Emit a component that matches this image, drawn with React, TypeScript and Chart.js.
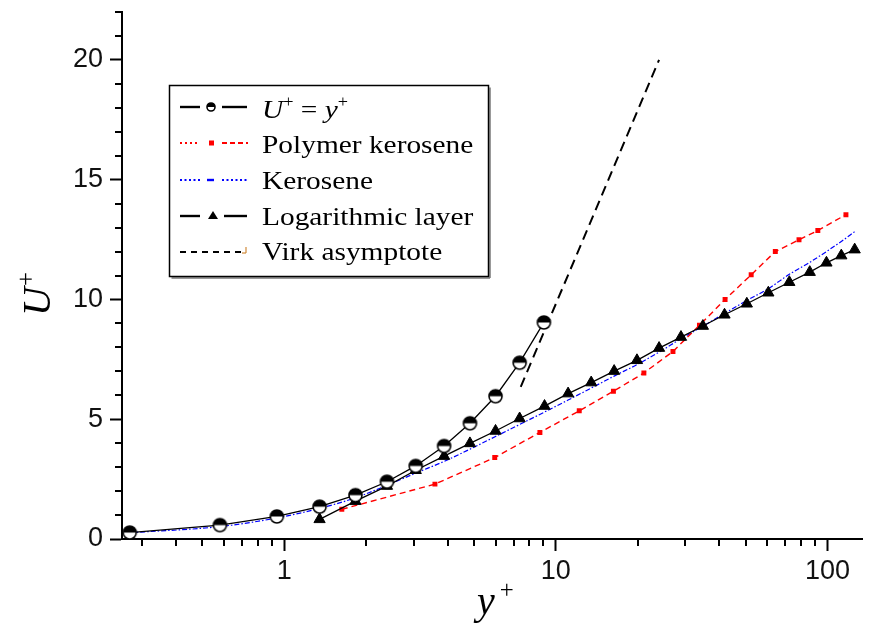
import { useEffect, useRef } from 'react';
import { Chart, registerables } from 'chart.js';

Chart.register(...registerables);

// Viscous sublayer U+ = y+
const wallX = [0.27, 0.58, 0.94, 1.35, 1.83, 2.39, 3.05, 3.88, 4.83, 6.0, 7.36, 9.04];
const wallU = [0.27, 0.58, 0.94, 1.35, 1.83, 2.39, 3.05, 3.88, 4.83, 5.96, 7.36, 9.04];

// Polymer kerosene profile
const polymerX = [1.63, 3.59, 5.96, 8.74, 12.2, 16.3, 21.1, 27.0, 33.8, 42.0, 52.4, 64.3, 78.6, 92.2, 117];
const polymerU = [1.24, 2.29, 3.4, 4.45, 5.35, 6.17, 6.93, 7.83, 8.92, 10.0, 11.03, 12.0, 12.49, 12.88, 13.54];

// Kerosene profile
const keroseneX = [0.27, 0.58, 0.94, 1.35, 1.83, 2.39, 3.05, 3.88, 4.83, 6.0, 7.36, 9.09, 11.1, 13.5, 16.4, 19.9, 24.0, 28.9, 34.8, 41.8, 50.5, 60.6, 72.4, 86.1, 99.2, 112.5, 126];
const keroseneU = [0.26, 0.52, 0.88, 1.28, 1.72, 2.24, 2.75, 3.24, 3.75, 4.28, 4.78, 5.3, 5.8, 6.3, 6.8, 7.28, 7.8, 8.36, 8.88, 9.42, 9.96, 10.45, 11.05, 11.55, 12.0, 12.42, 12.83];

// Logarithmic layer
const logX = [1.35, 1.83, 2.39, 3.05, 3.88, 4.83, 6.0, 7.36, 9.09, 11.1, 13.5, 16.4, 19.9, 24.0, 28.9, 34.8, 41.8, 50.5, 60.6, 72.4, 86.1, 99.2, 112.5, 126];
const logU = [0.82, 1.58, 2.21, 2.87, 3.46, 3.99, 4.51, 5.03, 5.55, 6.07, 6.53, 7.01, 7.46, 7.97, 8.43, 8.89, 9.36, 9.82, 10.28, 10.72, 11.14, 11.53, 11.83, 12.08];

// Virk maximum drag reduction asymptote
const virkX = [7.43, 24.0];
const virkU = [6.35, 20.0];

// Axis ticks
const xMajorTicks = [1, 10, 100];
const xMinorTicks = [0.3, 0.4, 0.5, 0.6, 0.7, 0.8, 0.9, 2, 3, 4, 5, 6, 7, 8, 9, 20, 30, 40, 50, 60, 70, 80, 90];
const yMajorTicks = [0, 5, 10, 15, 20];
const yMinorTicks = [1, 2, 3, 4, 6, 7, 8, 9, 11, 12, 13, 14, 16, 17, 18, 19, 21, 22];

const legendLabels = ['U+ = y+', 'Polymer kerosene', 'Kerosene', 'Logarithmic layer', 'Virk asymptote'];

const SERIF = '"Liberation Serif", "Times New Roman", serif';
const SANS = '"Liberation Sans", Arial, sans-serif';

const pts = (xs: number[], ys: number[]) => xs.map((x, i) => ({ x, y: ys[i] }));

function makeHalfDisc(r: number, lw = 1.4): HTMLCanvasElement {
  const size = Math.ceil(r * 2 + 4);
  const c = document.createElement('canvas');
  c.width = size;
  c.height = size;
  const g = c.getContext('2d')!;
  const m = size / 2;
  g.fillStyle = '#fff';
  g.beginPath();
  g.arc(m, m, r, 0, Math.PI * 2);
  g.fill();
  g.fillStyle = '#000';
  g.beginPath();
  g.arc(m, m, r, Math.PI, 0);
  g.closePath();
  g.fill();
  g.lineWidth = lw;
  g.strokeStyle = '#000';
  g.beginPath();
  g.arc(m, m, r, 0, Math.PI * 2);
  g.stroke();
  return c;
}

type Run = { t: string; italic?: boolean; sup?: boolean; gap?: number };

function drawRuns(ctx: CanvasRenderingContext2D, runs: Run[], x: number, y: number, size: number, sx = 1) {
  ctx.save();
  ctx.translate(x, y);
  ctx.scale(sx, 1);
  ctx.textAlign = 'left';
  ctx.textBaseline = 'alphabetic';
  ctx.fillStyle = '#000';
  let cx = 0;
  for (const r of runs) {
    const fs = r.sup ? size * 0.62 : size;
    cx += r.gap ?? 0;
    ctx.font = `${r.italic ? 'italic ' : ''}${fs}px ${SERIF}`;
    ctx.fillText(r.t, cx, r.sup ? -size * 0.4 : 0);
    cx += ctx.measureText(r.t).width;
  }
  ctx.restore();
}

function seg(ctx: CanvasRenderingContext2D, x1: number, y1: number, x2: number, y2: number) {
  ctx.beginPath();
  ctx.moveTo(x1, y1);
  ctx.lineTo(x2, y2);
  ctx.stroke();
}

const decorations = {
  id: 'decorations',
  afterDatasetsDraw(chart: any) {
    const ctx: CanvasRenderingContext2D = chart.ctx;
    const xs = chart.scales.x;
    const ys = chart.scales.y;
    const { left, bottom } = chart.chartArea;
    ctx.save();

    // minor tick marks
    ctx.strokeStyle = '#000';
    ctx.lineWidth = 2;
    ctx.setLineDash([]);
    for (const v of xMinorTicks) {
      const px = Math.round(xs.getPixelForValue(v));
      seg(ctx, px, bottom, px, bottom + 7);
    }
    for (const v of yMinorTicks) {
      const py = Math.round(ys.getPixelForValue(v));
      seg(ctx, left - 7, py, left, py);
    }

    // legend box
    const bx = 169.5, by = 85.5, bw = 319, bh = 191;
    ctx.fillStyle = '#fff';
    ctx.fillRect(bx, by, bw, bh);
    ctx.strokeStyle = '#777';
    ctx.lineWidth = 1.5;
    seg(ctx, bx + bw + 1.5, by + 2, bx + bw + 1.5, by + bh + 1.5);
    seg(ctx, bx + 2, by + bh + 1.5, bx + bw + 1.5, by + bh + 1.5);
    ctx.strokeStyle = '#000';
    ctx.lineWidth = 1.5;
    ctx.strokeRect(bx, by, bw, bh);

    const sampleY = [107, 143, 180, 216, 252];
    const textY = [117.5, 153, 189, 224.5, 260];

    // row 1: U+ = y+
    ctx.strokeStyle = '#000';
    ctx.lineWidth = 2.4;
    seg(ctx, 180, sampleY[0], 200, sampleY[0]);
    seg(ctx, 222, sampleY[0], 247, sampleY[0]);
    const disc = makeHalfDisc(4, 1.6);
    ctx.drawImage(disc, 211 - disc.width / 2, sampleY[0] - disc.height / 2);

    // row 2: polymer kerosene
    ctx.strokeStyle = '#ff0000';
    ctx.lineWidth = 1.8;
    ctx.setLineDash([2, 3]);
    seg(ctx, 180, sampleY[1], 200, sampleY[1]);
    ctx.setLineDash([5, 3]);
    seg(ctx, 222, sampleY[1], 248, sampleY[1]);
    ctx.setLineDash([]);
    ctx.fillStyle = '#ff0000';
    ctx.fillRect(209, sampleY[1] - 2.5, 5, 5);

    // row 3: kerosene
    ctx.strokeStyle = '#0000ff';
    ctx.lineWidth = 1.8;
    ctx.setLineDash([2, 2.5]);
    seg(ctx, 180, sampleY[2], 200, sampleY[2]);
    seg(ctx, 222, sampleY[2], 248, sampleY[2]);
    ctx.setLineDash([]);
    ctx.fillStyle = '#0000ff';
    ctx.fillRect(207, sampleY[2] - 1.2, 7, 2.4);

    // row 4: logarithmic layer
    ctx.strokeStyle = '#000';
    ctx.lineWidth = 2.4;
    seg(ctx, 180, sampleY[3], 200, sampleY[3]);
    seg(ctx, 224, sampleY[3], 247, sampleY[3]);
    ctx.fillStyle = '#000';
    ctx.beginPath();
    ctx.moveTo(213, sampleY[3] - 5);
    ctx.lineTo(218, sampleY[3] + 3);
    ctx.lineTo(208, sampleY[3] + 3);
    ctx.closePath();
    ctx.fill();

    // row 5: Virk asymptote
    ctx.strokeStyle = '#000';
    ctx.lineWidth = 2;
    ctx.setLineDash([6, 5]);
    seg(ctx, 180, sampleY[4], 241, sampleY[4]);
    ctx.setLineDash([]);
    ctx.strokeStyle = '#d08a3a';
    ctx.lineWidth = 1.2;
    seg(ctx, 246, sampleY[4] - 5, 246, sampleY[4] + 1);
    seg(ctx, 242, sampleY[4] + 1, 246, sampleY[4] + 1);

    // legend labels
    const LS = 26;
    const SX = 1.13;
    drawRuns(ctx, [
      { t: 'U', italic: true }, { t: '+', sup: true }, { t: ' = ' },
      { t: 'y', italic: true }, { t: '+', sup: true },
    ], 262, textY[0], LS, SX);
    for (let i = 1; i < legendLabels.length; i++) {
      drawRuns(ctx, [{ t: legendLabels[i] }], 262, textY[i], LS, SX);
    }

    // axis titles
    ctx.save();
    ctx.translate(50, 316);
    ctx.rotate(-Math.PI / 2);
    drawRuns(ctx, [{ t: 'U', italic: true }, { t: '+', sup: true, gap: 1 }], 0, 0, 40, 1);
    ctx.restore();

    drawRuns(ctx, [{ t: 'y', italic: true }, { t: '+', sup: true, gap: 5 }], 477, 614, 40, 1);

    ctx.restore();
  },
};

export default function App() {
  const ref = useRef<HTMLCanvasElement | null>(null);

  useEffect(() => {
    if (!ref.current) return;
    const disc = makeHalfDisc(6.5, 1.6);

    const chart = new Chart(ref.current, {
      type: 'scatter',
      data: {
        datasets: [
          {
            label: legendLabels[0],
            data: pts(wallX, wallU),
            showLine: true,
            borderColor: '#000',
            borderWidth: 1.3,
            pointStyle: disc as any,
            pointRadius: 6.5,
          },
          {
            label: legendLabels[3],
            data: pts(logX, logU),
            showLine: true,
            borderColor: '#000',
            borderWidth: 1.3,
            backgroundColor: '#000',
            pointStyle: 'triangle',
            pointRadius: 6.5,
            pointBorderWidth: 1,
          },
          {
            label: legendLabels[4],
            data: pts(virkX, virkU),
            showLine: true,
            borderColor: '#000',
            borderWidth: 2,
            borderDash: [10, 6],
            pointRadius: 0,
          },
          {
            label: legendLabels[1],
            data: pts(polymerX, polymerU),
            showLine: true,
            borderColor: '#ff0000',
            backgroundColor: '#ff0000',
            borderWidth: 1.4,
            borderDash: [6, 4],
            pointStyle: 'rect',
            pointRadius: 3.5,
            pointBorderWidth: 0,
          },
          {
            label: legendLabels[2],
            data: pts(keroseneX, keroseneU),
            showLine: true,
            borderColor: '#0000ff',
            borderWidth: 1.2,
            borderDash: [5, 2, 1.5, 2],
            pointRadius: 0,
            cubicInterpolationMode: 'monotone',
          },
        ],
      },
      options: {
        animation: false,
        responsive: false,
        layout: { padding: { left: 0, top: 12, right: 4, bottom: 0 } },
        plugins: { legend: { display: false }, tooltip: { enabled: false } },
        scales: {
          x: {
            type: 'logarithmic',
            min: 0.2529,
            max: 134.3,
            afterBuildTicks: (s: any) => {
              s.ticks = xMajorTicks.map((v) => ({ value: v }));
            },
            afterFit: (s: any) => {
              s.height = 84;
              s.paddingLeft = 0;
              s.paddingRight = 0;
            },
            ticks: {
              callback: (v: any) => String(v),
              autoSkip: false,
              maxRotation: 0,
              padding: 4,
              color: '#111',
              font: { family: SANS, size: 27 },
            },
            grid: {
              display: true,
              drawOnChartArea: false,
              drawTicks: true,
              tickLength: 12,
              tickWidth: 2,
              tickColor: '#000',
            },
            border: { display: true, color: '#000', width: 2 },
          },
          y: {
            type: 'linear',
            min: 0,
            max: 22,
            afterBuildTicks: (s: any) => {
              s.ticks = yMajorTicks.map((v) => ({ value: v }));
            },
            afterFit: (s: any) => {
              s.width = 122;
              s.paddingTop = 0;
              s.paddingBottom = 0;
            },
            ticks: {
              callback: (v: any) => String(v),
              padding: 7,
              color: '#111',
              font: { family: SANS, size: 27 },
            },
            grid: {
              display: true,
              drawOnChartArea: false,
              drawTicks: true,
              tickLength: 12,
              tickWidth: 2,
              tickColor: '#000',
            },
            border: { display: true, color: '#000', width: 2 },
          },
        },
      },
      plugins: [decorations],
    });

    return () => chart.destroy();
  }, []);

  return (
    <div style={{ position: 'absolute', left: 0, top: 0, width: 870, height: 623, background: '#fff' }}>
      <canvas ref={ref} width={870} height={623} style={{ display: 'block' }} />
    </div>
  );
}
